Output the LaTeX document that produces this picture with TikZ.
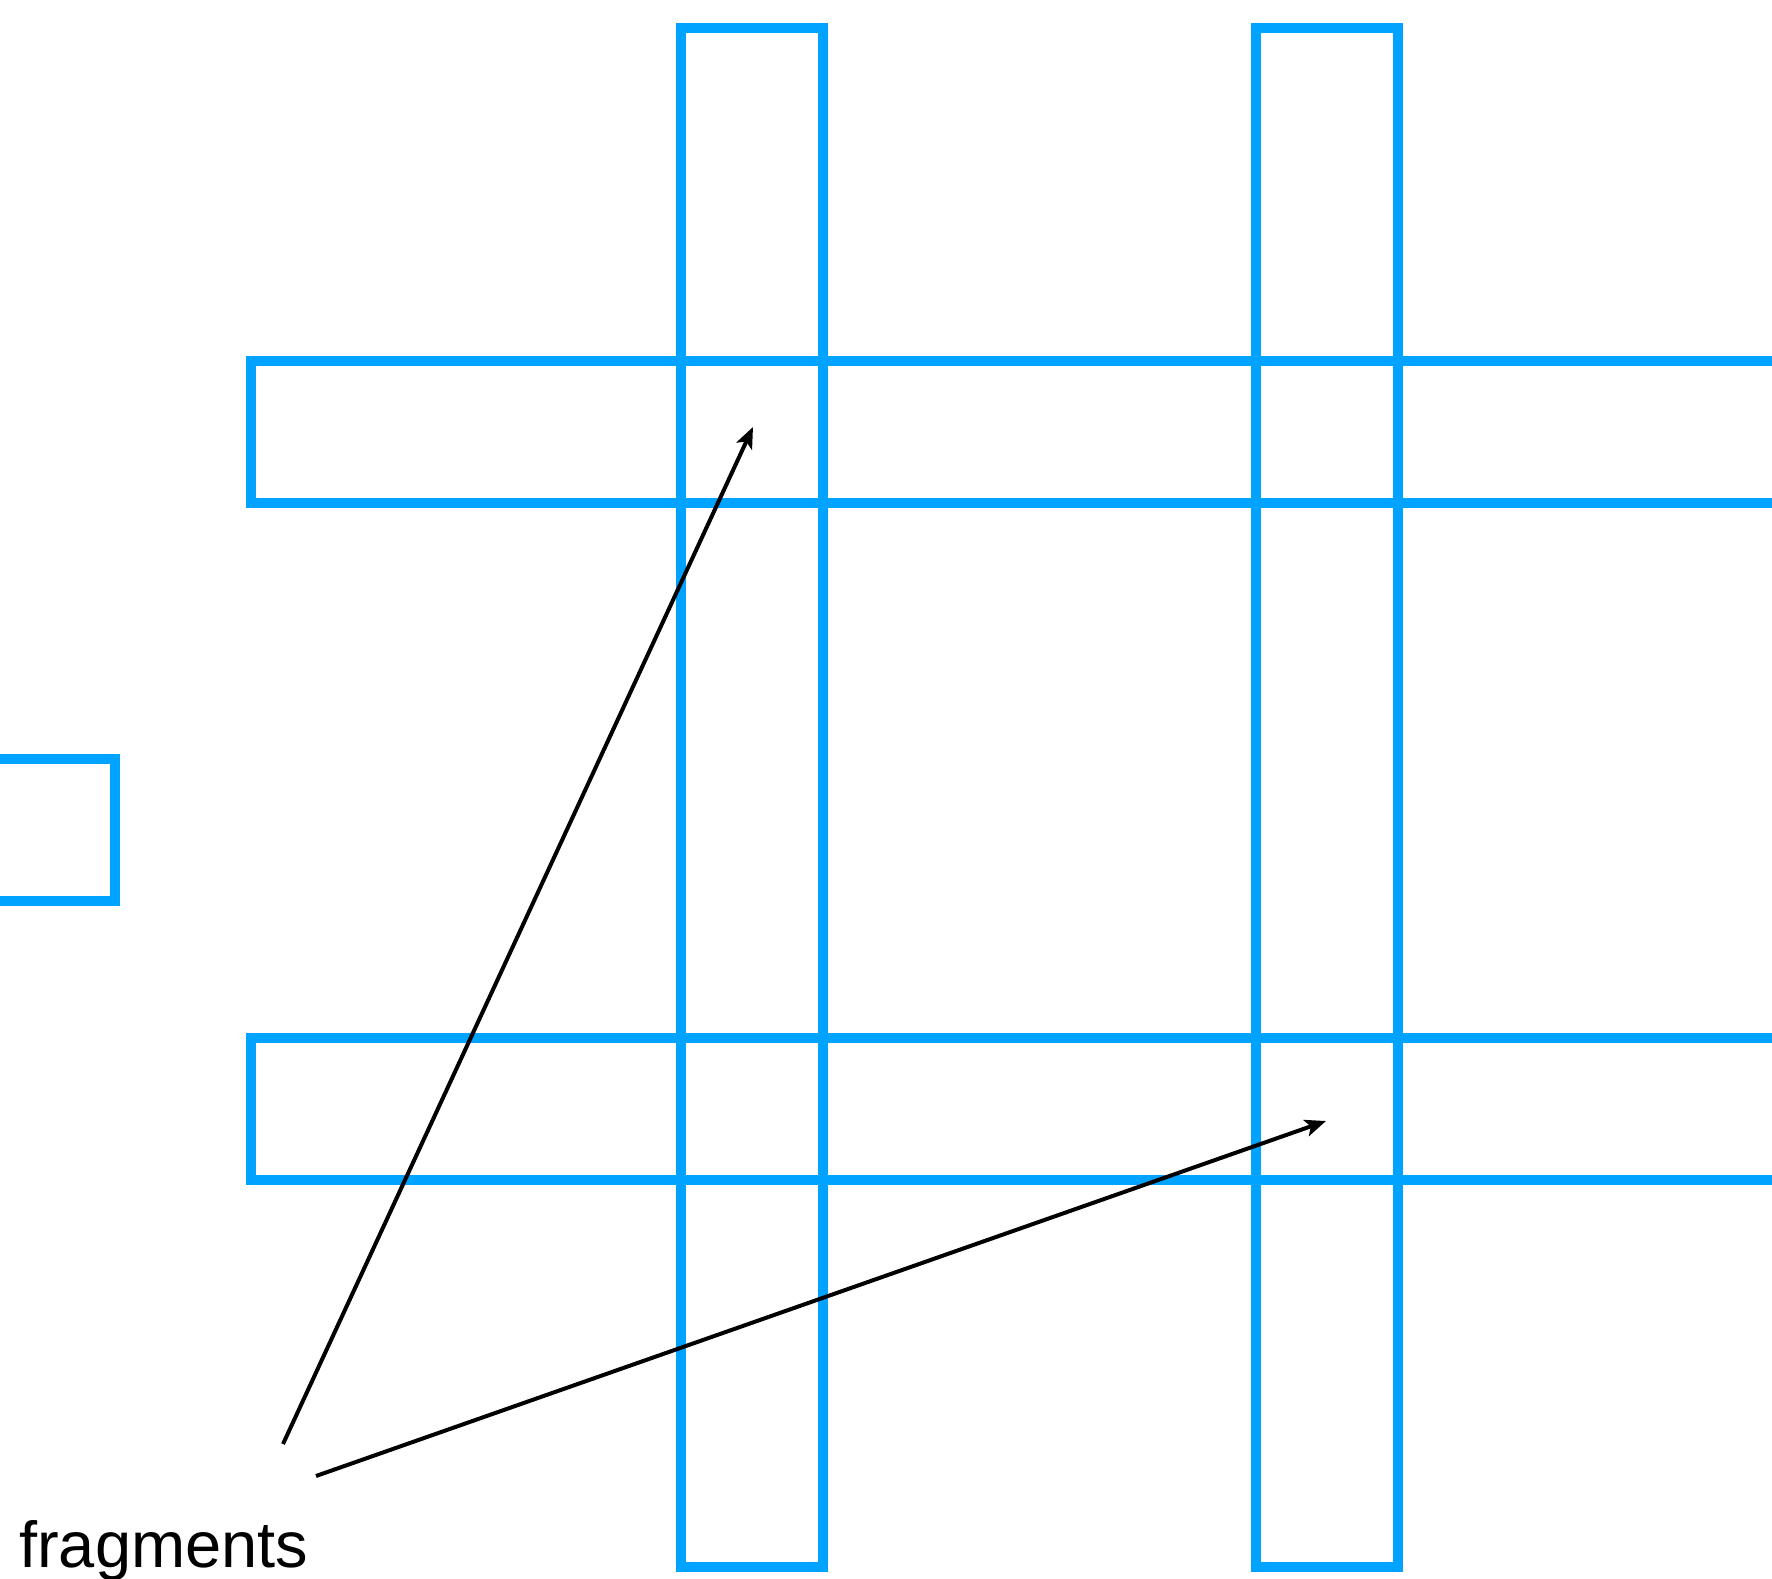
\documentclass[tikz,border=0pt]{standalone}
\usepackage{fontspec}
\setmainfont{Liberation Sans}
\usetikzlibrary{arrows.meta}
\definecolor{boxblue}{RGB}{0,163,255}
\tikzset{
  frag/.style={draw=boxblue, line width=10.5pt},
  pointer/.style={draw=black, line width=4pt, -{Stealth[length=21pt, width=17pt, inset=5pt]}},
  lbl/.style={inner sep=0pt, anchor=base west, font=\fontsize{65}{65}\selectfont}
}
\begin{document}
\begin{tikzpicture}[x=1pt,y=-1pt]
\useasboundingbox (0,0) rectangle (1772,1579);
% horizontal bands
\draw[frag] (1800,361) -- (251,361) -- (251,503) -- (1800,503);
\draw[frag] (1800,1038) -- (251,1038) -- (251,1180) -- (1800,1180);
% vertical bands
\draw[frag] (681,28) rectangle (823,1567);
\draw[frag] (1256,28) rectangle (1398,1567);
% small fragment at left
\draw[frag] (-20,759) -- (115,759) -- (115,901) -- (-20,901);
% label
\node[lbl] (label) at (19,1567) {fragments};
\coordinate (s1) at (283,1444);
\coordinate (t1) at (753,427);
\coordinate (s2) at (316,1476);
\coordinate (t2) at (1326,1121);
\draw[pointer] (s1) -- (t1);
\draw[pointer] (s2) -- (t2);
\end{tikzpicture}
\end{document}
